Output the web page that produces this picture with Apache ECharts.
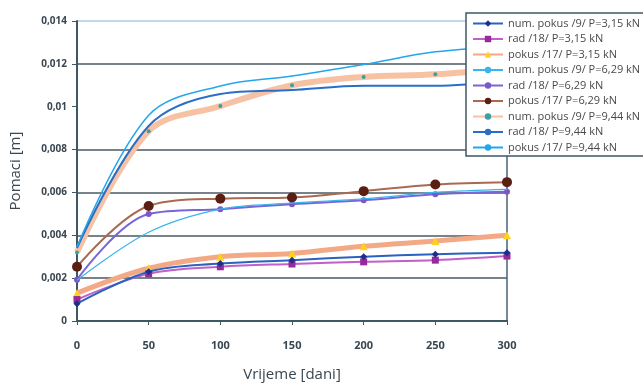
<!DOCTYPE html>
<html><head><meta charset="utf-8">
<script src="https://cdn.jsdelivr.net/npm/echarts@6/dist/echarts.min.js"></script>
<style>html,body{margin:0;padding:0;background:#fff}#c{width:643px;height:387px}</style>
</head><body><div id="c"></div>
<script>
var days = [0, 50, 100, 150, 200, 250, 300];
var yTicks = ['0', '0,002', '0,004', '0,006', '0,008', '0,01', '0,012', '0,014'];

var numPokus315 = [0.00081, 0.0023, 0.00268, 0.00284, 0.0030, 0.00312, 0.00318];
var rad315      = [0.0010, 0.0022, 0.00253, 0.00266, 0.00276, 0.00284, 0.00303];
var pokus315    = [0.0013, 0.00246, 0.0030, 0.00315, 0.00349, 0.00373, 0.0040];
var numPokus629 = [0.0019, 0.00414, 0.00522, 0.0055, 0.0057, 0.0060, 0.00614];
var rad629      = [0.00193, 0.00499, 0.00522, 0.00545, 0.00563, 0.00591, 0.00603];
var pokus629    = [0.00253, 0.00537, 0.00571, 0.00576, 0.00606, 0.00637, 0.00648];
var numPokus944 = [0.0032, 0.00886, 0.01003, 0.0110, 0.01139, 0.01151, 0.0118];
var rad944      = [0.0034, 0.0091, 0.01059, 0.01078, 0.01098, 0.01098, 0.0112];
var pokus944    = [0.00345, 0.0096, 0.01097, 0.01143, 0.01197, 0.01256, 0.0128];

var names = ['num. pokus /9/ P=3,15 kN','rad /18/ P=3,15 kN','pokus /17/ P=3,15 kN',
  'num. pokus /9/ P=6,29 kN','rad /18/ P=6,29 kN','pokus /17/ P=6,29 kN',
  'num. pokus /9/ P=9,44 kN','rad /18/ P=9,44 kN','pokus /17/ P=9,44 kN'];

function pairs(arr){ return arr.map(function(v,i){ return [days[i], v]; }); }
function s(name, data, lineColor, width, symbol, size, symColor, z){
  return { name: name, type: 'line', smooth: 0.35, data: pairs(data),
    symbol: symbol, symbolSize: size, showSymbol: symbol !== 'none', z: z || 2,
    lineStyle: { color: lineColor, width: width },
    itemStyle: { color: symColor || lineColor, borderWidth: 0 } };
}

var series = [
  s(names[6], numPokus944, '#f7c2a4', 6, 'circle', 4, '#3aa0a0', 1),
  s(names[2], pokus315, '#f4a986', 5, 'triangle', 8, '#ffd21a', 1),
  s(names[0], numPokus315, '#2a62c0', 2, 'diamond', 7, '#1c2f8a', 3),
  s(names[1], rad315, '#c060c8', 2, 'rect', 7, '#962a9c', 2),
  s(names[3], numPokus629, '#3ab4ea', 1.2, 'none', 0, '#3ab4ea', 3),
  s(names[4], rad629, '#7866d8', 2, 'circle', 6, '#7a58c8', 2),
  s(names[5], pokus629, '#a86a50', 2, 'circle', 10, '#5a1e12', 2),
  s(names[7], rad944, '#2a6ec8', 2, 'none', 0, '#2a6ec8', 3),
  s(names[8], pokus944, '#22a6ee', 1.5, 'none', 0, '#22a6ee', 3)
];

var chart = echarts.init(document.getElementById('c'));
chart.setOption({
  backgroundColor: '#fff',
  animation: false,
  grid: { left: 75, right: 136, top: 21, bottom: 62 },
  xAxis: {
    type: 'value', min: 0, max: 300, interval: 50,
    name: 'Vrijeme [dani]', nameLocation: 'middle', nameGap: 46,
    nameTextStyle: { fontSize: 15, color: '#3a4650', fontFamily: 'Open Sans' },
    axisLine: { lineStyle: { color: '#3e5866', width: 2 } },
    axisTick: { show: true, length: 4, lineStyle: { color: '#3e5866' } },
    axisLabel: { fontSize: 11, fontWeight: 'bold', color: '#3a4650', margin: 19, fontFamily: 'Open Sans' },
    splitLine: { show: true, lineStyle: { color: ['transparent','transparent','transparent','transparent','transparent','transparent','#4a6270'], width: 1.5 } }
  },
  yAxis: {
    type: 'value', min: 0, max: 0.014, interval: 0.002,
    name: 'Pomaci [m]', nameLocation: 'middle', nameGap: 54, nameRotate: 90,
    nameTextStyle: { fontSize: 15, color: '#3a4650', fontFamily: 'Open Sans' },
    axisLine: { show: true, lineStyle: { color: '#3e5866', width: 2 } },
    axisTick: { show: true, length: 5, lineStyle: { color: '#3e5866' } },
    axisLabel: { fontSize: 10, fontWeight: 'bold', color: '#3a4650', margin: 10, fontFamily: 'Open Sans',
      formatter: function(v){ return yTicks[Math.round(v / 0.002)]; } },
    splitLine: { show: true, lineStyle: { color: ['#4a5a62','#4a5a62','#4a5a62','#4a5a62','#4a5a62','transparent','#4a5a62','#a8cde0'], width: 1.5 } }
  },
  legend: {
    orient: 'vertical', left: 466, top: 13, width: 260,
    data: names,
    itemWidth: 30, itemHeight: 8, itemGap: 4.5,
    padding: [5, 40, 3, 6],
    backgroundColor: '#fff', borderColor: '#3e5866', borderWidth: 1.5,
    textStyle: { fontSize: 11, color: '#4a4a4a', fontFamily: 'Open Sans' }
  },
  series: series
});
</script></body></html>
